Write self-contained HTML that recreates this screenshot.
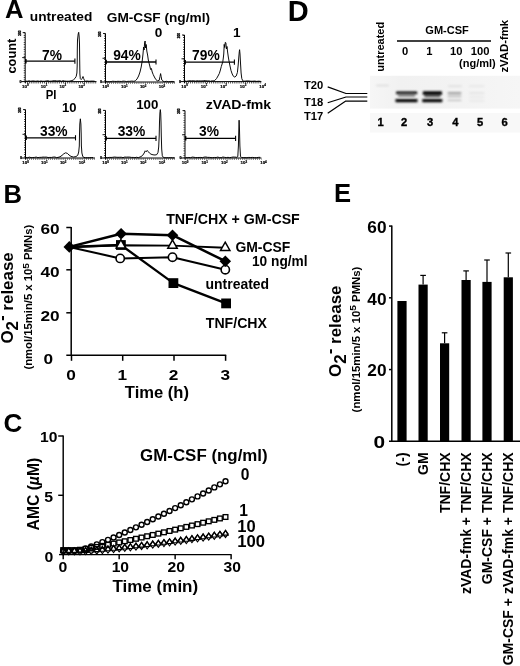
<!DOCTYPE html>
<html lang="en"><head><meta charset="utf-8"><title>Figure</title>
<style>
html,body{margin:0;padding:0;background:#fff;}
body{width:520px;height:666px;overflow:hidden;}
svg{display:block;filter:blur(0.3px);font-family:'Liberation Sans', Arial, Helvetica, sans-serif;fill:#000;}
</style></head><body>
<svg width="520" height="666" viewBox="0 0 520 666">
<rect width="520" height="666" fill="#fff"/>
<g id="panelA">
<text x="5.00" y="18.10" font-size="25.6" text-anchor="start" font-weight="bold">A</text>
<text x="29.80" y="21.20" font-size="13.6" text-anchor="start" font-weight="bold" textLength="62.50" lengthAdjust="spacingAndGlyphs">untreated</text>
<text x="106.80" y="22.00" font-size="13.6" text-anchor="start" font-weight="bold" textLength="103.20" lengthAdjust="spacingAndGlyphs">GM-CSF (ng/ml)</text>
<text x="15.60" y="73.60" font-size="13" text-anchor="start" font-weight="bold" transform="rotate(-90 15.60 73.60)" textLength="35.00" lengthAdjust="spacingAndGlyphs">count</text>
<text x="45.80" y="98.80" font-size="12.5" text-anchor="start" font-weight="bold" textLength="10.70" lengthAdjust="spacingAndGlyphs">PI</text>
<text x="158.50" y="37.00" font-size="13.6" text-anchor="middle" font-weight="bold">0</text>
<text x="236.80" y="36.60" font-size="13.6" text-anchor="middle" font-weight="bold">1</text>
<text x="62.00" y="111.80" font-size="13.6" text-anchor="start" font-weight="bold" textLength="14.50" lengthAdjust="spacingAndGlyphs">10</text>
<text x="136.20" y="109.40" font-size="13.6" text-anchor="start" font-weight="bold" textLength="22.20" lengthAdjust="spacingAndGlyphs">100</text>
<text x="205.80" y="109.00" font-size="13.6" text-anchor="start" font-weight="bold" textLength="65.40" lengthAdjust="spacingAndGlyphs">zVAD-fmk</text>
<line x1="25.20" y1="32.60" x2="25.20" y2="83.10" stroke="#000" stroke-width="1.0"/>
<line x1="21.20" y1="81.60" x2="96.50" y2="81.60" stroke="#000" stroke-width="1.0"/>
<line x1="24.30" y1="32.60" x2="24.30" y2="81.60" stroke="#000" stroke-width="1.1" stroke-dasharray="0.7 1.65"/>
<line x1="22.70" y1="32.60" x2="25.20" y2="32.60" stroke="#000" stroke-width="0.9"/>
<line x1="22.20" y1="57.60" x2="25.20" y2="57.60" stroke="#000" stroke-width="0.9"/>
<line x1="25.20" y1="82.70" x2="96.50" y2="82.70" stroke="#000" stroke-width="1.4" stroke-dasharray="0.6 1.3"/>
<line x1="25.20" y1="61.20" x2="74.90" y2="61.20" stroke="#000" stroke-width="1.3"/>
<line x1="74.90" y1="58.60" x2="74.90" y2="63.80" stroke="#000" stroke-width="1.1"/>
<line x1="25.80" y1="59.00" x2="25.80" y2="63.40" stroke="#000" stroke-width="1.6"/>
<path d="M25.70 81.07 L27.40 81.19 L29.10 80.84 L30.80 81.25 L32.50 80.92 L34.20 81.04 L35.90 81.26 L37.60 80.94 L39.30 81.27 L41.00 81.00 L42.70 81.25 L44.40 81.24 L46.10 81.00 L47.80 80.72 L49.50 81.21 L51.20 81.14 L52.90 80.86 L54.60 80.64 L56.30 80.90 L58.00 81.02 L59.70 80.62 L61.40 81.27 L63.10 80.70 L64.80 81.10 L66.50 81.20 L68.20 81.22 L69.90 81.08 L70.00 81.00 L72.00 80.60 L73.50 79.80 L75.00 78.40 L76.20 76.40 L76.90 73.00 L77.20 66.00 L77.30 50.00 L77.50 40.00 L78.20 34.00 L78.70 32.30 L79.10 36.00 L79.50 44.00 L79.70 60.00 L79.90 74.00 L80.30 78.60 L81.20 79.60 L82.20 78.40 L83.00 76.50 L83.70 78.60 L84.60 80.60 L85.60 81.20 L87.10 80.99 L89.00 81.31 L90.90 81.11 L92.80 81.08 L94.70 81.21" fill="none" stroke="#000" stroke-width="0.95" stroke-linejoin="round"/>
<text x="52.00" y="60.00" font-size="13.8" text-anchor="middle" font-weight="bold">7%</text>
<text x="25.30" y="87.80" font-size="4.4" text-anchor="middle" font-weight="bold" stroke="#000" stroke-width="0.2">10<tspan dy="-1.5" font-size="3.0">0</tspan></text>
<text x="44.10" y="87.80" font-size="4.4" text-anchor="middle" font-weight="bold" stroke="#000" stroke-width="0.2">10<tspan dy="-1.5" font-size="3.0">1</tspan></text>
<text x="62.90" y="87.80" font-size="4.4" text-anchor="middle" font-weight="bold" stroke="#000" stroke-width="0.2">10<tspan dy="-1.5" font-size="3.0">2</tspan></text>
<text x="81.70" y="87.80" font-size="4.4" text-anchor="middle" font-weight="bold" stroke="#000" stroke-width="0.2">10<tspan dy="-1.5" font-size="3.0">3</tspan></text>
<text x="20.60" y="35.80" font-size="3.1" text-anchor="start" font-weight="bold" transform="rotate(-90 20.60 35.80)" stroke="#000" stroke-width="0.3">200</text>
<text x="20.60" y="82.80" font-size="3.6" text-anchor="middle" font-weight="bold" stroke="#000" stroke-width="0.25">0</text>
<line x1="105.50" y1="33.50" x2="105.50" y2="83.50" stroke="#000" stroke-width="1.0"/>
<line x1="101.50" y1="82.00" x2="175.00" y2="82.00" stroke="#000" stroke-width="1.0"/>
<line x1="104.60" y1="33.50" x2="104.60" y2="82.00" stroke="#000" stroke-width="1.1" stroke-dasharray="0.7 1.65"/>
<line x1="103.00" y1="33.50" x2="105.50" y2="33.50" stroke="#000" stroke-width="0.9"/>
<line x1="102.50" y1="58.25" x2="105.50" y2="58.25" stroke="#000" stroke-width="0.9"/>
<line x1="105.50" y1="83.10" x2="175.00" y2="83.10" stroke="#000" stroke-width="1.4" stroke-dasharray="0.6 1.3"/>
<line x1="105.50" y1="62.00" x2="156.00" y2="62.00" stroke="#000" stroke-width="1.3"/>
<line x1="156.00" y1="59.40" x2="156.00" y2="64.60" stroke="#000" stroke-width="1.1"/>
<line x1="106.10" y1="59.80" x2="106.10" y2="64.20" stroke="#000" stroke-width="1.6"/>
<path d="M106.00 81.32 L107.70 81.66 L109.40 81.66 L111.10 81.56 L112.80 81.22 L114.50 81.40 L116.20 81.48 L117.90 81.29 L119.60 81.38 L121.30 81.49 L123.00 81.14 L124.70 81.21 L126.40 81.53 L128.10 81.30 L129.80 81.33 L131.50 81.09 L133.20 81.19 L134.00 81.40 L135.50 80.60 L137.00 79.00 L138.60 76.00 L140.00 72.00 L141.20 67.00 L142.20 61.00 L143.00 54.00 L143.60 47.00 L144.10 50.00 L144.60 43.00 L145.10 41.00 L145.60 48.00 L146.20 44.50 L146.80 51.00 L147.60 55.00 L148.30 60.00 L149.00 63.00 L149.80 66.00 L150.60 69.50 L151.40 68.50 L152.20 72.00 L153.20 74.50 L154.40 77.00 L155.80 79.50 L157.40 80.80 L159.20 80.40 L160.00 76.50 L160.60 73.60 L161.20 76.80 L161.80 80.00 L163.00 81.20 L164.50 81.66 L166.40 81.31 L168.30 81.74 L170.20 81.59 L172.10 81.42 L174.00 81.72" fill="none" stroke="#000" stroke-width="0.95" stroke-linejoin="round"/>
<text x="127.00" y="60.00" font-size="13.8" text-anchor="middle" font-weight="bold">94%</text>
<text x="105.60" y="88.20" font-size="4.4" text-anchor="middle" font-weight="bold" stroke="#000" stroke-width="0.2">10<tspan dy="-1.5" font-size="3.0">0</tspan></text>
<text x="124.40" y="88.20" font-size="4.4" text-anchor="middle" font-weight="bold" stroke="#000" stroke-width="0.2">10<tspan dy="-1.5" font-size="3.0">1</tspan></text>
<text x="143.20" y="88.20" font-size="4.4" text-anchor="middle" font-weight="bold" stroke="#000" stroke-width="0.2">10<tspan dy="-1.5" font-size="3.0">2</tspan></text>
<text x="162.00" y="88.20" font-size="4.4" text-anchor="middle" font-weight="bold" stroke="#000" stroke-width="0.2">10<tspan dy="-1.5" font-size="3.0">3</tspan></text>
<text x="100.90" y="36.70" font-size="3.1" text-anchor="start" font-weight="bold" transform="rotate(-90 100.90 36.70)" stroke="#000" stroke-width="0.3">200</text>
<text x="100.90" y="83.20" font-size="3.6" text-anchor="middle" font-weight="bold" stroke="#000" stroke-width="0.25">0</text>
<line x1="184.50" y1="35.00" x2="184.50" y2="83.10" stroke="#000" stroke-width="1.0"/>
<line x1="180.50" y1="81.60" x2="261.40" y2="81.60" stroke="#000" stroke-width="1.0"/>
<line x1="183.60" y1="35.00" x2="183.60" y2="81.60" stroke="#000" stroke-width="1.1" stroke-dasharray="0.7 1.65"/>
<line x1="182.00" y1="35.00" x2="184.50" y2="35.00" stroke="#000" stroke-width="0.9"/>
<line x1="181.50" y1="58.80" x2="184.50" y2="58.80" stroke="#000" stroke-width="0.9"/>
<line x1="184.50" y1="82.70" x2="261.40" y2="82.70" stroke="#000" stroke-width="1.4" stroke-dasharray="0.6 1.3"/>
<line x1="184.50" y1="62.20" x2="234.40" y2="62.20" stroke="#000" stroke-width="1.3"/>
<line x1="234.40" y1="59.60" x2="234.40" y2="64.80" stroke="#000" stroke-width="1.1"/>
<line x1="185.10" y1="60.00" x2="185.10" y2="64.40" stroke="#000" stroke-width="1.6"/>
<path d="M185.00 80.96 L186.70 81.27 L188.40 80.83 L190.10 80.76 L191.80 80.90 L193.50 80.69 L195.20 81.08 L196.90 80.81 L198.60 80.88 L200.30 80.89 L202.00 80.98 L203.70 80.71 L205.40 80.64 L207.10 80.97 L208.80 80.84 L210.50 81.26 L212.20 80.81 L213.00 81.00 L214.60 80.60 L216.50 78.60 L218.00 76.00 L219.40 73.30 L220.40 70.00 L221.30 66.50 L222.10 64.00 L222.80 61.70 L223.30 58.00 L223.75 54.00 L224.00 49.00 L224.20 44.40 L224.70 47.50 L225.30 42.30 L225.90 42.80 L226.40 49.00 L227.00 46.50 L227.60 52.00 L228.30 57.00 L229.20 62.00 L230.00 66.00 L231.00 70.50 L232.20 74.00 L233.50 76.40 L234.80 77.10 L236.20 76.00 L237.40 72.50 L238.20 65.00 L238.80 57.00 L239.30 51.50 L239.60 49.70 L240.00 54.00 L240.50 63.00 L241.10 73.00 L241.80 78.60 L242.80 80.80 L243.80 81.20 L245.30 81.08 L247.20 80.90 L249.10 80.99 L251.00 81.26 L252.90 81.21 L254.80 81.07 L256.70 81.39 L258.60 81.17 L260.50 81.32" fill="none" stroke="#000" stroke-width="0.95" stroke-linejoin="round"/>
<text x="205.90" y="59.80" font-size="13.8" text-anchor="middle" font-weight="bold">79%</text>
<text x="184.60" y="87.80" font-size="4.4" text-anchor="middle" font-weight="bold" stroke="#000" stroke-width="0.2">10<tspan dy="-1.5" font-size="3.0">0</tspan></text>
<text x="204.10" y="87.80" font-size="4.4" text-anchor="middle" font-weight="bold" stroke="#000" stroke-width="0.2">10<tspan dy="-1.5" font-size="3.0">1</tspan></text>
<text x="223.60" y="87.80" font-size="4.4" text-anchor="middle" font-weight="bold" stroke="#000" stroke-width="0.2">10<tspan dy="-1.5" font-size="3.0">2</tspan></text>
<text x="243.10" y="87.80" font-size="4.4" text-anchor="middle" font-weight="bold" stroke="#000" stroke-width="0.2">10<tspan dy="-1.5" font-size="3.0">3</tspan></text>
<text x="262.60" y="87.80" font-size="4.4" text-anchor="middle" font-weight="bold" stroke="#000" stroke-width="0.2">10<tspan dy="-1.5" font-size="3.0">4</tspan></text>
<text x="179.90" y="38.20" font-size="3.1" text-anchor="start" font-weight="bold" transform="rotate(-90 179.90 38.20)" stroke="#000" stroke-width="0.3">200</text>
<text x="179.90" y="82.80" font-size="3.6" text-anchor="middle" font-weight="bold" stroke="#000" stroke-width="0.25">0</text>
<line x1="25.50" y1="109.60" x2="25.50" y2="159.50" stroke="#000" stroke-width="1.0"/>
<line x1="21.50" y1="158.00" x2="95.00" y2="158.00" stroke="#000" stroke-width="1.0"/>
<line x1="24.60" y1="109.60" x2="24.60" y2="158.00" stroke="#000" stroke-width="1.1" stroke-dasharray="0.7 1.65"/>
<line x1="23.00" y1="109.60" x2="25.50" y2="109.60" stroke="#000" stroke-width="0.9"/>
<line x1="22.50" y1="134.30" x2="25.50" y2="134.30" stroke="#000" stroke-width="0.9"/>
<line x1="25.50" y1="159.10" x2="95.00" y2="159.10" stroke="#000" stroke-width="1.4" stroke-dasharray="0.6 1.3"/>
<line x1="25.50" y1="137.80" x2="75.50" y2="137.80" stroke="#000" stroke-width="1.3"/>
<line x1="75.50" y1="135.20" x2="75.50" y2="140.40" stroke="#000" stroke-width="1.1"/>
<line x1="26.10" y1="135.60" x2="26.10" y2="140.00" stroke="#000" stroke-width="1.6"/>
<path d="M26.00 157.62 L27.70 157.66 L29.40 157.16 L31.10 157.61 L32.80 157.53 L34.50 157.43 L36.20 157.09 L37.90 157.64 L39.60 157.39 L41.30 157.32 L43.00 157.08 L44.70 157.13 L46.40 157.10 L48.10 157.51 L49.80 157.41 L51.50 157.45 L53.20 157.08 L54.90 157.03 L56.60 157.59 L58.00 157.40 L60.00 156.80 L62.00 155.40 L63.80 153.80 L65.60 152.80 L67.40 153.40 L69.00 155.00 L71.00 156.40 L73.50 157.00 L76.00 156.60 L77.80 155.20 L78.70 152.00 L79.30 146.00 L79.50 134.00 L79.80 124.00 L80.35 118.80 L80.90 124.00 L81.20 134.00 L81.40 146.00 L81.90 153.00 L82.80 156.60 L84.00 157.40 L85.50 157.71 L87.40 157.68 L89.30 157.68 L91.20 157.56 L93.10 157.51" fill="none" stroke="#000" stroke-width="0.95" stroke-linejoin="round"/>
<text x="53.80" y="135.60" font-size="13.8" text-anchor="middle" font-weight="bold">33%</text>
<text x="25.60" y="164.20" font-size="4.4" text-anchor="middle" font-weight="bold" stroke="#000" stroke-width="0.2">10<tspan dy="-1.5" font-size="3.0">0</tspan></text>
<text x="44.40" y="164.20" font-size="4.4" text-anchor="middle" font-weight="bold" stroke="#000" stroke-width="0.2">10<tspan dy="-1.5" font-size="3.0">1</tspan></text>
<text x="63.20" y="164.20" font-size="4.4" text-anchor="middle" font-weight="bold" stroke="#000" stroke-width="0.2">10<tspan dy="-1.5" font-size="3.0">2</tspan></text>
<text x="82.00" y="164.20" font-size="4.4" text-anchor="middle" font-weight="bold" stroke="#000" stroke-width="0.2">10<tspan dy="-1.5" font-size="3.0">3</tspan></text>
<text x="20.90" y="112.80" font-size="3.1" text-anchor="start" font-weight="bold" transform="rotate(-90 20.90 112.80)" stroke="#000" stroke-width="0.3">200</text>
<text x="20.90" y="159.20" font-size="3.6" text-anchor="middle" font-weight="bold" stroke="#000" stroke-width="0.25">0</text>
<line x1="105.50" y1="110.40" x2="105.50" y2="159.50" stroke="#000" stroke-width="1.0"/>
<line x1="101.50" y1="158.00" x2="175.00" y2="158.00" stroke="#000" stroke-width="1.0"/>
<line x1="104.60" y1="110.40" x2="104.60" y2="158.00" stroke="#000" stroke-width="1.1" stroke-dasharray="0.7 1.65"/>
<line x1="103.00" y1="110.40" x2="105.50" y2="110.40" stroke="#000" stroke-width="0.9"/>
<line x1="102.50" y1="134.70" x2="105.50" y2="134.70" stroke="#000" stroke-width="0.9"/>
<line x1="105.50" y1="159.10" x2="175.00" y2="159.10" stroke="#000" stroke-width="1.4" stroke-dasharray="0.6 1.3"/>
<line x1="105.50" y1="138.40" x2="156.00" y2="138.40" stroke="#000" stroke-width="1.3"/>
<line x1="156.00" y1="135.80" x2="156.00" y2="141.00" stroke="#000" stroke-width="1.1"/>
<line x1="106.10" y1="136.20" x2="106.10" y2="140.60" stroke="#000" stroke-width="1.6"/>
<path d="M106.00 157.52 L107.70 157.70 L109.40 157.41 L111.10 157.44 L112.80 157.30 L114.50 157.03 L116.20 157.22 L117.90 157.34 L119.60 157.27 L121.30 157.23 L123.00 157.66 L124.70 157.07 L126.40 157.15 L128.10 157.09 L129.80 157.14 L131.50 157.43 L133.20 157.42 L134.90 157.63 L136.60 157.26 L138.30 157.66 L139.00 157.40 L141.00 156.60 L142.80 155.20 L144.20 153.00 L145.20 150.80 L146.20 151.80 L147.20 150.40 L148.20 151.60 L149.40 153.00 L151.00 154.20 L153.00 154.80 L155.00 155.00 L156.80 154.60 L158.00 152.40 L158.70 147.00 L159.20 136.00 L159.50 122.00 L159.90 113.00 L160.30 109.60 L160.70 113.00 L161.00 122.00 L161.30 136.00 L161.70 149.00 L162.30 155.80 L163.40 157.40 L164.90 157.77 L166.80 157.70 L168.70 157.72 L170.60 157.63 L172.50 157.77 L174.40 157.80" fill="none" stroke="#000" stroke-width="0.95" stroke-linejoin="round"/>
<text x="131.50" y="135.60" font-size="13.8" text-anchor="middle" font-weight="bold">33%</text>
<text x="105.60" y="164.20" font-size="4.4" text-anchor="middle" font-weight="bold" stroke="#000" stroke-width="0.2">10<tspan dy="-1.5" font-size="3.0">0</tspan></text>
<text x="124.40" y="164.20" font-size="4.4" text-anchor="middle" font-weight="bold" stroke="#000" stroke-width="0.2">10<tspan dy="-1.5" font-size="3.0">1</tspan></text>
<text x="143.20" y="164.20" font-size="4.4" text-anchor="middle" font-weight="bold" stroke="#000" stroke-width="0.2">10<tspan dy="-1.5" font-size="3.0">2</tspan></text>
<text x="162.00" y="164.20" font-size="4.4" text-anchor="middle" font-weight="bold" stroke="#000" stroke-width="0.2">10<tspan dy="-1.5" font-size="3.0">3</tspan></text>
<text x="100.90" y="113.60" font-size="3.1" text-anchor="start" font-weight="bold" transform="rotate(-90 100.90 113.60)" stroke="#000" stroke-width="0.3">200</text>
<text x="100.90" y="159.20" font-size="3.6" text-anchor="middle" font-weight="bold" stroke="#000" stroke-width="0.25">0</text>
<line x1="185.00" y1="110.60" x2="185.00" y2="159.50" stroke="#000" stroke-width="1.0"/>
<line x1="181.00" y1="158.00" x2="261.40" y2="158.00" stroke="#000" stroke-width="1.0"/>
<line x1="184.10" y1="110.60" x2="184.10" y2="158.00" stroke="#000" stroke-width="1.1" stroke-dasharray="0.7 1.65"/>
<line x1="182.50" y1="110.60" x2="185.00" y2="110.60" stroke="#000" stroke-width="0.9"/>
<line x1="182.00" y1="134.80" x2="185.00" y2="134.80" stroke="#000" stroke-width="0.9"/>
<line x1="185.00" y1="159.10" x2="261.40" y2="159.10" stroke="#000" stroke-width="1.4" stroke-dasharray="0.6 1.3"/>
<line x1="185.00" y1="138.30" x2="235.60" y2="138.30" stroke="#000" stroke-width="1.3"/>
<line x1="235.60" y1="135.70" x2="235.60" y2="140.90" stroke="#000" stroke-width="1.1"/>
<line x1="185.60" y1="136.10" x2="185.60" y2="140.50" stroke="#000" stroke-width="1.6"/>
<path d="M185.50 157.59 L187.20 157.63 L188.90 157.45 L190.60 157.68 L192.30 157.09 L194.00 157.27 L195.70 157.60 L197.40 157.52 L199.10 157.46 L200.80 157.45 L202.50 157.61 L204.20 157.11 L205.90 157.00 L207.60 157.37 L209.30 157.36 L211.00 157.64 L212.70 157.63 L214.40 157.46 L216.10 157.51 L217.80 157.12 L219.50 157.59 L221.20 157.68 L222.90 157.03 L224.60 157.33 L226.30 157.60 L228.00 157.32 L229.70 157.68 L231.40 157.33 L233.10 157.02 L234.80 157.10 L236.50 157.21 L236.50 157.40 L237.80 156.60 L238.40 146.00 L238.80 130.00 L239.10 120.20 L239.50 130.00 L239.90 146.00 L240.50 156.60 L241.60 157.40 L243.10 157.67 L245.00 157.62 L246.90 157.72 L248.80 157.41 L250.70 157.53 L252.60 157.41 L254.50 157.64 L256.40 157.69 L258.30 157.39 L260.20 157.31" fill="none" stroke="#000" stroke-width="0.95" stroke-linejoin="round"/>
<text x="209.00" y="135.60" font-size="13.8" text-anchor="middle" font-weight="bold">3%</text>
<text x="185.10" y="164.20" font-size="4.4" text-anchor="middle" font-weight="bold" stroke="#000" stroke-width="0.2">10<tspan dy="-1.5" font-size="3.0">0</tspan></text>
<text x="204.70" y="164.20" font-size="4.4" text-anchor="middle" font-weight="bold" stroke="#000" stroke-width="0.2">10<tspan dy="-1.5" font-size="3.0">1</tspan></text>
<text x="224.30" y="164.20" font-size="4.4" text-anchor="middle" font-weight="bold" stroke="#000" stroke-width="0.2">10<tspan dy="-1.5" font-size="3.0">2</tspan></text>
<text x="243.90" y="164.20" font-size="4.4" text-anchor="middle" font-weight="bold" stroke="#000" stroke-width="0.2">10<tspan dy="-1.5" font-size="3.0">3</tspan></text>
<text x="263.50" y="164.20" font-size="4.4" text-anchor="middle" font-weight="bold" stroke="#000" stroke-width="0.2">10<tspan dy="-1.5" font-size="3.0">4</tspan></text>
<text x="180.40" y="113.80" font-size="3.1" text-anchor="start" font-weight="bold" transform="rotate(-90 180.40 113.80)" stroke="#000" stroke-width="0.3">200</text>
<text x="180.40" y="159.20" font-size="3.6" text-anchor="middle" font-weight="bold" stroke="#000" stroke-width="0.25">0</text>
</g>
<g id="panelD">
<text x="287.70" y="20.80" font-size="29" text-anchor="start" font-weight="bold">D</text>
<defs><filter id="bl" filterUnits="userSpaceOnUse" x="360" y="70" width="160" height="45"><feGaussianBlur stdDeviation="0.85"/></filter><filter id="bl2" filterUnits="userSpaceOnUse" x="360" y="70" width="160" height="45"><feGaussianBlur stdDeviation="1.3"/></filter><linearGradient id="gg" x1="0" x2="1" y1="0" y2="0"><stop offset="0" stop-color="#f6f6f6"/><stop offset="0.2" stop-color="#f1f1f1"/><stop offset="0.6" stop-color="#f3f3f3"/><stop offset="1" stop-color="#f6f6f6"/></linearGradient></defs>
<rect x="370" y="75.8" width="150" height="32.8" fill="url(#gg)"/>
<rect x="370" y="113" width="150" height="19.5" fill="#f8f8f8"/>
<text x="383.70" y="71.80" font-size="11.2" text-anchor="start" font-weight="bold" transform="rotate(-90 383.70 71.80)" textLength="50.00" lengthAdjust="spacingAndGlyphs">untreated</text>
<text x="508.50" y="72.60" font-size="11.2" text-anchor="start" font-weight="bold" transform="rotate(-90 508.50 72.60)" textLength="52.80" lengthAdjust="spacingAndGlyphs">zVAD-fmk</text>
<text x="425.30" y="33.90" font-size="11.2" text-anchor="start" font-weight="bold" textLength="43.50" lengthAdjust="spacingAndGlyphs">GM-CSF</text>
<line x1="397.00" y1="40.90" x2="491.00" y2="40.90" stroke="#000" stroke-width="1.5"/>
<text x="405.00" y="54.70" font-size="11.2" text-anchor="middle" font-weight="bold">0</text>
<text x="429.40" y="54.70" font-size="11.2" text-anchor="middle" font-weight="bold">1</text>
<text x="456.20" y="54.70" font-size="11.2" text-anchor="middle" font-weight="bold">10</text>
<text x="480.20" y="54.70" font-size="11.2" text-anchor="middle" font-weight="bold">100</text>
<text x="459.00" y="67.00" font-size="11.2" text-anchor="start" font-weight="bold" textLength="36.80" lengthAdjust="spacingAndGlyphs">(ng/ml)</text>
<text x="304.00" y="89.20" font-size="11.2" text-anchor="start" font-weight="bold" textLength="19.30" lengthAdjust="spacingAndGlyphs">T20</text>
<text x="304.00" y="105.90" font-size="11.2" text-anchor="start" font-weight="bold" textLength="19.30" lengthAdjust="spacingAndGlyphs">T18</text>
<text x="304.00" y="120.40" font-size="11.2" text-anchor="start" font-weight="bold" textLength="19.30" lengthAdjust="spacingAndGlyphs">T17</text>
<path d="M327.70 86.90 L346.00 93.50 L367.30 93.50" fill="none" stroke="#000" stroke-width="1.2" stroke-linejoin="round"/>
<path d="M327.70 102.70 L346.00 97.00 L367.30 97.00" fill="none" stroke="#000" stroke-width="1.2" stroke-linejoin="round"/>
<path d="M327.70 113.30 L345.40 101.20 L367.30 101.20" fill="none" stroke="#000" stroke-width="1.2" stroke-linejoin="round"/>
<g filter="url(#bl)">
<rect x="396.0" y="91.4" width="21.20" height="2.90" rx="0.8" fill="#000"/>
<rect x="398.0" y="94.6" width="17.20" height="2.20" rx="0.8" fill="#7c7c7c"/>
<rect x="395.4" y="98.9" width="22.20" height="3.30" rx="0.8" fill="#000"/>
<rect x="422.8" y="91.2" width="19.20" height="3.80" rx="0.8" fill="#000"/>
<rect x="424.3" y="95.0" width="16.20" height="2.20" rx="0.8" fill="#5a5a5a"/>
<rect x="422.2" y="98.9" width="20.20" height="3.30" rx="0.8" fill="#000"/>
<rect x="447.5" y="92.3" width="14.00" height="1.60" rx="0.8" fill="#8e8e8e"/>
<rect x="447.5" y="95.5" width="14.00" height="1.40" rx="0.8" fill="#b0b0b0"/>
<rect x="447.5" y="99.7" width="14.00" height="1.40" rx="0.8" fill="#b8b8b8"/>
</g>
<g filter="url(#bl2)">
<rect x="448" y="85.4" width="14.00" height="1.40" rx="0.8" fill="#d8d8d8"/>
<rect x="469" y="85.6" width="15.60" height="1.20" rx="0.8" fill="#e2e2e2"/>
<rect x="469" y="92.4" width="15.60" height="1.40" rx="0.8" fill="#dcdcdc"/>
<rect x="469" y="96.4" width="15.60" height="1.20" rx="0.8" fill="#e2e2e2"/>
<rect x="469" y="100.2" width="15.60" height="1.20" rx="0.8" fill="#e4e4e4"/>
<rect x="376" y="84.8" width="13.00" height="1.40" rx="0.8" fill="#dadada"/>
</g>
<text x="380.60" y="125.80" font-size="11.2" text-anchor="middle" font-weight="bold" stroke="#000" stroke-width="0.35">1</text>
<text x="404.20" y="125.80" font-size="11.2" text-anchor="middle" font-weight="bold" stroke="#000" stroke-width="0.35">2</text>
<text x="430.00" y="125.80" font-size="11.2" text-anchor="middle" font-weight="bold" stroke="#000" stroke-width="0.35">3</text>
<text x="455.40" y="125.80" font-size="11.2" text-anchor="middle" font-weight="bold" stroke="#000" stroke-width="0.35">4</text>
<text x="480.00" y="125.80" font-size="11.2" text-anchor="middle" font-weight="bold" stroke="#000" stroke-width="0.35">5</text>
<text x="504.60" y="125.80" font-size="11.2" text-anchor="middle" font-weight="bold" stroke="#000" stroke-width="0.35">6</text>
</g>
<g id="panelB">
<text x="3.50" y="202.70" font-size="25.6" text-anchor="start" font-weight="bold">B</text>
<line x1="71.20" y1="226.90" x2="71.20" y2="355.80" stroke="#000" stroke-width="1.5"/>
<line x1="66.30" y1="355.20" x2="226.20" y2="355.20" stroke="#000" stroke-width="1.5"/>
<line x1="66.30" y1="312.80" x2="71.20" y2="312.80" stroke="#000" stroke-width="1.5"/>
<line x1="66.30" y1="269.80" x2="71.20" y2="269.80" stroke="#000" stroke-width="1.5"/>
<line x1="66.30" y1="227.50" x2="71.20" y2="227.50" stroke="#000" stroke-width="1.5"/>
<line x1="71.50" y1="355.20" x2="71.50" y2="360.80" stroke="#000" stroke-width="1.5"/>
<line x1="122.70" y1="355.20" x2="122.70" y2="360.80" stroke="#000" stroke-width="1.5"/>
<line x1="174.00" y1="355.20" x2="174.00" y2="360.80" stroke="#000" stroke-width="1.5"/>
<line x1="225.60" y1="355.20" x2="225.60" y2="360.80" stroke="#000" stroke-width="1.5"/>
<text x="40.40" y="234.30" font-size="15.4" text-anchor="start" font-weight="bold" textLength="19.20" lengthAdjust="spacingAndGlyphs">60</text>
<text x="40.40" y="277.40" font-size="15.4" text-anchor="start" font-weight="bold" textLength="19.20" lengthAdjust="spacingAndGlyphs">40</text>
<text x="40.40" y="320.80" font-size="15.4" text-anchor="start" font-weight="bold" textLength="19.20" lengthAdjust="spacingAndGlyphs">20</text>
<text x="43.60" y="364.10" font-size="15.4" text-anchor="start" font-weight="bold" textLength="9.60" lengthAdjust="spacingAndGlyphs">0</text>
<text x="71.10" y="379.70" font-size="15.4" text-anchor="middle" font-weight="bold" textLength="9.60" lengthAdjust="spacingAndGlyphs">0</text>
<text x="122.30" y="379.70" font-size="15.4" text-anchor="middle" font-weight="bold" textLength="9.60" lengthAdjust="spacingAndGlyphs">1</text>
<text x="173.60" y="379.70" font-size="15.4" text-anchor="middle" font-weight="bold" textLength="9.60" lengthAdjust="spacingAndGlyphs">2</text>
<text x="225.20" y="379.70" font-size="15.4" text-anchor="middle" font-weight="bold" textLength="9.60" lengthAdjust="spacingAndGlyphs">3</text>
<text x="124.80" y="397.50" font-size="17" text-anchor="start" font-weight="bold" textLength="64.20" lengthAdjust="spacingAndGlyphs">Time (h)</text>
<text transform="translate(13.0,343.6) rotate(-90)" font-size="17" font-weight="bold" textLength="91.4" lengthAdjust="spacingAndGlyphs">O<tspan dy="5">2</tspan><tspan dy="-11.3">-</tspan><tspan dy="6.3"> release</tspan></text>
<text transform="translate(32.3,369.6) rotate(-90)" font-size="10.4" font-weight="bold" textLength="144.8" lengthAdjust="spacingAndGlyphs">(nmol/15min/5 x 10<tspan dy="-3.6" font-size="9.4">5</tspan><tspan dy="3.6"> PMNs)</tspan></text>
<path d="M69.30 247.00 L120.90 245.00 L173.40 283.10 L226.10 303.40" fill="none" stroke="#000" stroke-width="2.3" stroke-linejoin="round"/>
<path d="M69.30 247.00 L120.20 258.40 L172.50 257.20 L225.30 269.70" fill="none" stroke="#000" stroke-width="2.0" stroke-linejoin="round"/>
<path d="M69.30 247.00 L120.90 245.20 L172.50 245.60 L225.20 247.80" fill="none" stroke="#000" stroke-width="1.9" stroke-linejoin="round"/>
<path d="M69.30 246.90 L121.10 233.80 L172.50 235.20 L225.30 261.20" fill="none" stroke="#000" stroke-width="2.5" stroke-linejoin="round"/>
<rect x="116.00" y="240.10" width="9.8" height="9.8" fill="#000"/>
<rect x="168.50" y="278.20" width="9.8" height="9.8" fill="#000"/>
<rect x="221.20" y="298.50" width="9.8" height="9.8" fill="#000"/>
<circle cx="120.20" cy="258.40" r="4.15" fill="#fff" stroke="#000" stroke-width="1.6"/>
<circle cx="172.50" cy="257.20" r="4.15" fill="#fff" stroke="#000" stroke-width="1.6"/>
<circle cx="225.30" cy="269.70" r="4.15" fill="#fff" stroke="#000" stroke-width="1.6"/>
<path d="M120.90 239.60 L125.60 247.90 L116.20 247.90 Z" fill="#fff" stroke="#000" stroke-width="1.5"/>
<path d="M172.50 240.00 L177.20 248.30 L167.80 248.30 Z" fill="#fff" stroke="#000" stroke-width="1.5"/>
<path d="M225.20 242.20 L229.90 250.50 L220.50 250.50 Z" fill="#fff" stroke="#000" stroke-width="1.5"/>
<path d="M69.30 241.10 L75.10 246.90 L69.30 252.70 L63.50 246.90 Z" fill="#000"/>
<path d="M121.10 228.00 L126.90 233.80 L121.10 239.60 L115.30 233.80 Z" fill="#000"/>
<path d="M172.50 229.40 L178.30 235.20 L172.50 241.00 L166.70 235.20 Z" fill="#000"/>
<path d="M225.30 255.40 L231.10 261.20 L225.30 267.00 L219.50 261.20 Z" fill="#000"/>
<text x="166.20" y="224.20" font-size="14" text-anchor="start" font-weight="bold" textLength="133.60" lengthAdjust="spacingAndGlyphs">TNF/CHX + GM-CSF</text>
<text x="235.40" y="252.40" font-size="14" text-anchor="start" font-weight="bold" textLength="55.00" lengthAdjust="spacingAndGlyphs">GM-CSF</text>
<text x="252.00" y="266.20" font-size="14" text-anchor="start" font-weight="bold" textLength="55.60" lengthAdjust="spacingAndGlyphs">10 ng/ml</text>
<text x="205.50" y="288.70" font-size="14" text-anchor="start" font-weight="bold" textLength="63.60" lengthAdjust="spacingAndGlyphs">untreated</text>
<text x="205.80" y="328.20" font-size="14" text-anchor="start" font-weight="bold" textLength="61.20" lengthAdjust="spacingAndGlyphs">TNF/CHX</text>
</g>
<g id="panelC">
<text x="3.60" y="432.00" font-size="26" text-anchor="start" font-weight="bold">C</text>
<line x1="63.20" y1="435.40" x2="63.20" y2="555.20" stroke="#000" stroke-width="1.45"/>
<line x1="59.00" y1="554.60" x2="231.60" y2="554.60" stroke="#000" stroke-width="1.45"/>
<line x1="58.20" y1="495.30" x2="63.20" y2="495.30" stroke="#000" stroke-width="1.45"/>
<line x1="58.20" y1="436.00" x2="63.20" y2="436.00" stroke="#000" stroke-width="1.45"/>
<line x1="63.20" y1="554.60" x2="63.20" y2="559.20" stroke="#000" stroke-width="1.45"/>
<line x1="119.17" y1="554.60" x2="119.17" y2="559.20" stroke="#000" stroke-width="1.45"/>
<line x1="175.14" y1="554.60" x2="175.14" y2="559.20" stroke="#000" stroke-width="1.45"/>
<line x1="231.11" y1="554.60" x2="231.11" y2="559.20" stroke="#000" stroke-width="1.45"/>
<text x="40.00" y="442.30" font-size="14.1" text-anchor="start" font-weight="bold" textLength="17.40" lengthAdjust="spacingAndGlyphs">10</text>
<text x="44.20" y="502.00" font-size="14.1" text-anchor="start" font-weight="bold" textLength="8.80" lengthAdjust="spacingAndGlyphs">5</text>
<text x="44.50" y="562.00" font-size="14.1" text-anchor="start" font-weight="bold" textLength="8.80" lengthAdjust="spacingAndGlyphs">0</text>
<text x="62.90" y="572.30" font-size="14.1" text-anchor="middle" font-weight="bold" textLength="8.80" lengthAdjust="spacingAndGlyphs">0</text>
<text x="120.37" y="572.30" font-size="14.1" text-anchor="middle" font-weight="bold" textLength="17.40" lengthAdjust="spacingAndGlyphs">10</text>
<text x="176.34" y="572.30" font-size="14.1" text-anchor="middle" font-weight="bold" textLength="17.40" lengthAdjust="spacingAndGlyphs">20</text>
<text x="232.31" y="572.30" font-size="14.1" text-anchor="middle" font-weight="bold" textLength="17.40" lengthAdjust="spacingAndGlyphs">30</text>
<text x="112.40" y="592.30" font-size="16.9" text-anchor="start" font-weight="bold" textLength="85.80" lengthAdjust="spacingAndGlyphs">Time (min)</text>
<text transform="translate(38.8,530.4) rotate(-90)" font-size="15.6" font-weight="bold" textLength="72.6" lengthAdjust="spacingAndGlyphs">AMC (<tspan font-style="italic">µ</tspan>M)</text>
<text x="140.10" y="461.00" font-size="16.9" text-anchor="start" font-weight="bold" textLength="127.60" lengthAdjust="spacingAndGlyphs">GM-CSF (ng/ml)</text>
<text x="240.80" y="479.70" font-size="15.6" text-anchor="start" font-weight="bold">0</text>
<text x="239.20" y="516.10" font-size="15.6" text-anchor="start" font-weight="bold">1</text>
<text x="237.20" y="531.80" font-size="15.6" text-anchor="start" font-weight="bold" textLength="18.40" lengthAdjust="spacingAndGlyphs">10</text>
<text x="237.20" y="546.80" font-size="15.6" text-anchor="start" font-weight="bold" textLength="27.80" lengthAdjust="spacingAndGlyphs">100</text>
<path d="M63.20 547.90 L65.90 551.40 L63.20 554.90 L60.50 551.40 Z" fill="none" stroke="#000" stroke-width="1.15"/>
<path d="M63.20 547.80 L65.90 552.60 L60.50 552.60 Z" fill="none" stroke="#000" stroke-width="1.1"/>
<path d="M68.80 547.90 L71.50 551.40 L68.80 554.90 L66.10 551.40 Z" fill="none" stroke="#000" stroke-width="1.15"/>
<path d="M68.80 547.80 L71.50 552.60 L66.10 552.60 Z" fill="none" stroke="#000" stroke-width="1.1"/>
<path d="M74.39 547.90 L77.09 551.40 L74.39 554.90 L71.69 551.40 Z" fill="none" stroke="#000" stroke-width="1.15"/>
<path d="M74.39 547.80 L77.09 552.60 L71.69 552.60 Z" fill="none" stroke="#000" stroke-width="1.1"/>
<path d="M79.99 547.90 L82.69 551.40 L79.99 554.90 L77.29 551.40 Z" fill="none" stroke="#000" stroke-width="1.15"/>
<path d="M79.99 547.80 L82.69 552.60 L77.29 552.60 Z" fill="none" stroke="#000" stroke-width="1.1"/>
<path d="M85.59 547.68 L88.29 551.18 L85.59 554.68 L82.89 551.18 Z" fill="none" stroke="#000" stroke-width="1.15"/>
<path d="M85.59 547.58 L88.29 552.38 L82.89 552.38 Z" fill="none" stroke="#000" stroke-width="1.1"/>
<path d="M91.19 547.35 L93.89 550.85 L91.19 554.35 L88.48 550.85 Z" fill="none" stroke="#000" stroke-width="1.15"/>
<path d="M91.19 547.25 L93.89 552.05 L88.48 552.05 Z" fill="none" stroke="#000" stroke-width="1.1"/>
<path d="M96.78 546.95 L99.48 550.45 L96.78 553.95 L94.08 550.45 Z" fill="none" stroke="#000" stroke-width="1.15"/>
<path d="M96.78 546.85 L99.48 551.65 L94.08 551.65 Z" fill="none" stroke="#000" stroke-width="1.1"/>
<path d="M102.38 546.50 L105.08 550.00 L102.38 553.50 L99.68 550.00 Z" fill="none" stroke="#000" stroke-width="1.15"/>
<path d="M102.38 546.40 L105.08 551.20 L99.68 551.20 Z" fill="none" stroke="#000" stroke-width="1.1"/>
<path d="M107.98 546.02 L110.68 549.52 L107.98 553.02 L105.28 549.52 Z" fill="none" stroke="#000" stroke-width="1.15"/>
<path d="M107.98 545.92 L110.68 550.72 L105.28 550.72 Z" fill="none" stroke="#000" stroke-width="1.1"/>
<path d="M113.57 545.49 L116.27 548.99 L113.57 552.49 L110.87 548.99 Z" fill="none" stroke="#000" stroke-width="1.15"/>
<path d="M113.57 545.39 L116.27 550.19 L110.87 550.19 Z" fill="none" stroke="#000" stroke-width="1.1"/>
<path d="M119.17 544.93 L121.87 548.43 L119.17 551.93 L116.47 548.43 Z" fill="none" stroke="#000" stroke-width="1.15"/>
<path d="M119.17 544.83 L121.87 549.63 L116.47 549.63 Z" fill="none" stroke="#000" stroke-width="1.1"/>
<path d="M124.77 544.35 L127.47 547.85 L124.77 551.35 L122.07 547.85 Z" fill="none" stroke="#000" stroke-width="1.15"/>
<path d="M124.77 544.25 L127.47 549.05 L122.07 549.05 Z" fill="none" stroke="#000" stroke-width="1.1"/>
<path d="M130.36 543.73 L133.06 547.23 L130.36 550.73 L127.66 547.23 Z" fill="none" stroke="#000" stroke-width="1.15"/>
<path d="M130.36 543.63 L133.06 548.43 L127.66 548.43 Z" fill="none" stroke="#000" stroke-width="1.1"/>
<path d="M135.96 543.10 L138.66 546.60 L135.96 550.10 L133.26 546.60 Z" fill="none" stroke="#000" stroke-width="1.15"/>
<path d="M135.96 543.00 L138.66 547.80 L133.26 547.80 Z" fill="none" stroke="#000" stroke-width="1.1"/>
<path d="M141.56 542.44 L144.26 545.94 L141.56 549.44 L138.86 545.94 Z" fill="none" stroke="#000" stroke-width="1.15"/>
<path d="M141.56 542.34 L144.26 547.14 L138.86 547.14 Z" fill="none" stroke="#000" stroke-width="1.1"/>
<path d="M147.16 541.76 L149.86 545.26 L147.16 548.76 L144.46 545.26 Z" fill="none" stroke="#000" stroke-width="1.15"/>
<path d="M147.16 541.66 L149.86 546.46 L144.46 546.46 Z" fill="none" stroke="#000" stroke-width="1.1"/>
<path d="M152.75 541.06 L155.45 544.56 L152.75 548.06 L150.05 544.56 Z" fill="none" stroke="#000" stroke-width="1.15"/>
<path d="M152.75 540.96 L155.45 545.76 L150.05 545.76 Z" fill="none" stroke="#000" stroke-width="1.1"/>
<path d="M158.35 540.34 L161.05 543.84 L158.35 547.34 L155.65 543.84 Z" fill="none" stroke="#000" stroke-width="1.15"/>
<path d="M158.35 540.24 L161.05 545.04 L155.65 545.04 Z" fill="none" stroke="#000" stroke-width="1.1"/>
<path d="M163.95 539.60 L166.65 543.10 L163.95 546.60 L161.25 543.10 Z" fill="none" stroke="#000" stroke-width="1.15"/>
<path d="M163.95 539.50 L166.65 544.30 L161.25 544.30 Z" fill="none" stroke="#000" stroke-width="1.1"/>
<path d="M169.54 538.85 L172.24 542.35 L169.54 545.85 L166.84 542.35 Z" fill="none" stroke="#000" stroke-width="1.15"/>
<path d="M169.54 538.75 L172.24 543.55 L166.84 543.55 Z" fill="none" stroke="#000" stroke-width="1.1"/>
<path d="M175.14 538.07 L177.84 541.57 L175.14 545.07 L172.44 541.57 Z" fill="none" stroke="#000" stroke-width="1.15"/>
<path d="M175.14 537.97 L177.84 542.77 L172.44 542.77 Z" fill="none" stroke="#000" stroke-width="1.1"/>
<path d="M180.74 537.29 L183.44 540.79 L180.74 544.29 L178.04 540.79 Z" fill="none" stroke="#000" stroke-width="1.15"/>
<path d="M180.74 537.19 L183.44 541.99 L178.04 541.99 Z" fill="none" stroke="#000" stroke-width="1.1"/>
<path d="M186.33 536.48 L189.03 539.98 L186.33 543.48 L183.63 539.98 Z" fill="none" stroke="#000" stroke-width="1.15"/>
<path d="M186.33 536.38 L189.03 541.18 L183.63 541.18 Z" fill="none" stroke="#000" stroke-width="1.1"/>
<path d="M191.93 535.66 L194.63 539.16 L191.93 542.66 L189.23 539.16 Z" fill="none" stroke="#000" stroke-width="1.15"/>
<path d="M191.93 535.56 L194.63 540.36 L189.23 540.36 Z" fill="none" stroke="#000" stroke-width="1.1"/>
<path d="M197.53 534.83 L200.23 538.33 L197.53 541.83 L194.83 538.33 Z" fill="none" stroke="#000" stroke-width="1.15"/>
<path d="M197.53 534.73 L200.23 539.53 L194.83 539.53 Z" fill="none" stroke="#000" stroke-width="1.1"/>
<path d="M203.12 533.98 L205.82 537.48 L203.12 540.98 L200.43 537.48 Z" fill="none" stroke="#000" stroke-width="1.15"/>
<path d="M203.12 533.88 L205.82 538.68 L200.43 538.68 Z" fill="none" stroke="#000" stroke-width="1.1"/>
<path d="M208.72 533.12 L211.42 536.62 L208.72 540.12 L206.02 536.62 Z" fill="none" stroke="#000" stroke-width="1.15"/>
<path d="M208.72 533.02 L211.42 537.82 L206.02 537.82 Z" fill="none" stroke="#000" stroke-width="1.1"/>
<path d="M214.32 532.25 L217.02 535.75 L214.32 539.25 L211.62 535.75 Z" fill="none" stroke="#000" stroke-width="1.15"/>
<path d="M214.32 532.15 L217.02 536.95 L211.62 536.95 Z" fill="none" stroke="#000" stroke-width="1.1"/>
<path d="M219.92 531.36 L222.62 534.86 L219.92 538.36 L217.22 534.86 Z" fill="none" stroke="#000" stroke-width="1.15"/>
<path d="M219.92 531.26 L222.62 536.06 L217.22 536.06 Z" fill="none" stroke="#000" stroke-width="1.1"/>
<path d="M225.51 530.46 L228.21 533.96 L225.51 537.46 L222.81 533.96 Z" fill="none" stroke="#000" stroke-width="1.15"/>
<path d="M225.51 530.36 L228.21 535.16 L222.81 535.16 Z" fill="none" stroke="#000" stroke-width="1.1"/>
<rect x="60.85" y="547.74" width="4.7" height="4.7" fill="none" stroke="#000" stroke-width="1.35"/>
<rect x="66.45" y="547.74" width="4.7" height="4.7" fill="none" stroke="#000" stroke-width="1.35"/>
<rect x="72.04" y="547.74" width="4.7" height="4.7" fill="none" stroke="#000" stroke-width="1.35"/>
<rect x="77.64" y="547.41" width="4.7" height="4.7" fill="none" stroke="#000" stroke-width="1.35"/>
<rect x="83.24" y="546.56" width="4.7" height="4.7" fill="none" stroke="#000" stroke-width="1.35"/>
<rect x="88.84" y="545.60" width="4.7" height="4.7" fill="none" stroke="#000" stroke-width="1.35"/>
<rect x="94.43" y="544.58" width="4.7" height="4.7" fill="none" stroke="#000" stroke-width="1.35"/>
<rect x="100.03" y="543.51" width="4.7" height="4.7" fill="none" stroke="#000" stroke-width="1.35"/>
<rect x="105.63" y="542.40" width="4.7" height="4.7" fill="none" stroke="#000" stroke-width="1.35"/>
<rect x="111.22" y="541.26" width="4.7" height="4.7" fill="none" stroke="#000" stroke-width="1.35"/>
<rect x="116.82" y="540.09" width="4.7" height="4.7" fill="none" stroke="#000" stroke-width="1.35"/>
<rect x="122.42" y="538.90" width="4.7" height="4.7" fill="none" stroke="#000" stroke-width="1.35"/>
<rect x="128.01" y="537.68" width="4.7" height="4.7" fill="none" stroke="#000" stroke-width="1.35"/>
<rect x="133.61" y="536.44" width="4.7" height="4.7" fill="none" stroke="#000" stroke-width="1.35"/>
<rect x="139.21" y="535.18" width="4.7" height="4.7" fill="none" stroke="#000" stroke-width="1.35"/>
<rect x="144.81" y="533.90" width="4.7" height="4.7" fill="none" stroke="#000" stroke-width="1.35"/>
<rect x="150.40" y="532.61" width="4.7" height="4.7" fill="none" stroke="#000" stroke-width="1.35"/>
<rect x="156.00" y="531.30" width="4.7" height="4.7" fill="none" stroke="#000" stroke-width="1.35"/>
<rect x="161.60" y="529.98" width="4.7" height="4.7" fill="none" stroke="#000" stroke-width="1.35"/>
<rect x="167.19" y="528.64" width="4.7" height="4.7" fill="none" stroke="#000" stroke-width="1.35"/>
<rect x="172.79" y="527.30" width="4.7" height="4.7" fill="none" stroke="#000" stroke-width="1.35"/>
<rect x="178.39" y="525.93" width="4.7" height="4.7" fill="none" stroke="#000" stroke-width="1.35"/>
<rect x="183.98" y="524.56" width="4.7" height="4.7" fill="none" stroke="#000" stroke-width="1.35"/>
<rect x="189.58" y="523.18" width="4.7" height="4.7" fill="none" stroke="#000" stroke-width="1.35"/>
<rect x="195.18" y="521.78" width="4.7" height="4.7" fill="none" stroke="#000" stroke-width="1.35"/>
<rect x="200.78" y="520.37" width="4.7" height="4.7" fill="none" stroke="#000" stroke-width="1.35"/>
<rect x="206.37" y="518.96" width="4.7" height="4.7" fill="none" stroke="#000" stroke-width="1.35"/>
<rect x="211.97" y="517.53" width="4.7" height="4.7" fill="none" stroke="#000" stroke-width="1.35"/>
<rect x="217.57" y="516.10" width="4.7" height="4.7" fill="none" stroke="#000" stroke-width="1.35"/>
<rect x="223.16" y="514.65" width="4.7" height="4.7" fill="none" stroke="#000" stroke-width="1.35"/>
<circle cx="63.20" cy="550.69" r="2.5" fill="none" stroke="#000" stroke-width="1.4"/>
<circle cx="68.80" cy="550.69" r="2.5" fill="none" stroke="#000" stroke-width="1.4"/>
<circle cx="74.39" cy="550.69" r="2.5" fill="none" stroke="#000" stroke-width="1.4"/>
<circle cx="79.99" cy="550.17" r="2.5" fill="none" stroke="#000" stroke-width="1.4"/>
<circle cx="85.59" cy="548.45" r="2.5" fill="none" stroke="#000" stroke-width="1.4"/>
<circle cx="91.19" cy="546.49" r="2.5" fill="none" stroke="#000" stroke-width="1.4"/>
<circle cx="96.78" cy="544.38" r="2.5" fill="none" stroke="#000" stroke-width="1.4"/>
<circle cx="102.38" cy="542.16" r="2.5" fill="none" stroke="#000" stroke-width="1.4"/>
<circle cx="107.98" cy="539.85" r="2.5" fill="none" stroke="#000" stroke-width="1.4"/>
<circle cx="113.57" cy="537.47" r="2.5" fill="none" stroke="#000" stroke-width="1.4"/>
<circle cx="119.17" cy="535.02" r="2.5" fill="none" stroke="#000" stroke-width="1.4"/>
<circle cx="124.77" cy="532.52" r="2.5" fill="none" stroke="#000" stroke-width="1.4"/>
<circle cx="130.36" cy="529.96" r="2.5" fill="none" stroke="#000" stroke-width="1.4"/>
<circle cx="135.96" cy="527.36" r="2.5" fill="none" stroke="#000" stroke-width="1.4"/>
<circle cx="141.56" cy="524.71" r="2.5" fill="none" stroke="#000" stroke-width="1.4"/>
<circle cx="147.16" cy="522.03" r="2.5" fill="none" stroke="#000" stroke-width="1.4"/>
<circle cx="152.75" cy="519.30" r="2.5" fill="none" stroke="#000" stroke-width="1.4"/>
<circle cx="158.35" cy="516.55" r="2.5" fill="none" stroke="#000" stroke-width="1.4"/>
<circle cx="163.95" cy="513.76" r="2.5" fill="none" stroke="#000" stroke-width="1.4"/>
<circle cx="169.54" cy="510.94" r="2.5" fill="none" stroke="#000" stroke-width="1.4"/>
<circle cx="175.14" cy="508.09" r="2.5" fill="none" stroke="#000" stroke-width="1.4"/>
<circle cx="180.74" cy="505.21" r="2.5" fill="none" stroke="#000" stroke-width="1.4"/>
<circle cx="186.33" cy="502.30" r="2.5" fill="none" stroke="#000" stroke-width="1.4"/>
<circle cx="191.93" cy="499.37" r="2.5" fill="none" stroke="#000" stroke-width="1.4"/>
<circle cx="197.53" cy="496.42" r="2.5" fill="none" stroke="#000" stroke-width="1.4"/>
<circle cx="203.12" cy="493.44" r="2.5" fill="none" stroke="#000" stroke-width="1.4"/>
<circle cx="208.72" cy="490.44" r="2.5" fill="none" stroke="#000" stroke-width="1.4"/>
<circle cx="214.32" cy="487.41" r="2.5" fill="none" stroke="#000" stroke-width="1.4"/>
<circle cx="219.92" cy="484.37" r="2.5" fill="none" stroke="#000" stroke-width="1.4"/>
<circle cx="225.51" cy="481.31" r="2.5" fill="none" stroke="#000" stroke-width="1.4"/>
</g>
<g id="panelE">
<text x="333.90" y="202.10" font-size="25.6" text-anchor="start" font-weight="bold">E</text>
<line x1="391.80" y1="225.50" x2="391.80" y2="442.00" stroke="#000" stroke-width="1.5"/>
<line x1="389.00" y1="441.30" x2="520.00" y2="441.30" stroke="#000" stroke-width="1.4"/>
<line x1="389.00" y1="369.56" x2="391.80" y2="369.56" stroke="#000" stroke-width="1.5"/>
<line x1="389.00" y1="297.82" x2="391.80" y2="297.82" stroke="#000" stroke-width="1.5"/>
<line x1="389.00" y1="226.08" x2="391.80" y2="226.08" stroke="#000" stroke-width="1.5"/>
<text x="367.30" y="232.60" font-size="15.9" text-anchor="start" font-weight="bold" textLength="19.20" lengthAdjust="spacingAndGlyphs">60</text>
<text x="367.30" y="305.40" font-size="15.9" text-anchor="start" font-weight="bold" textLength="19.20" lengthAdjust="spacingAndGlyphs">40</text>
<text x="367.30" y="375.90" font-size="15.9" text-anchor="start" font-weight="bold" textLength="19.20" lengthAdjust="spacingAndGlyphs">20</text>
<text x="373.60" y="448.30" font-size="15.9" text-anchor="start" font-weight="bold" textLength="11.60" lengthAdjust="spacingAndGlyphs">0</text>
<rect x="397.40" y="301.00" width="9.2" height="140.30" fill="#000"/>
<rect x="418.50" y="284.60" width="9.2" height="156.70" fill="#000"/>
<line x1="423.10" y1="275.40" x2="423.10" y2="284.60" stroke="#000" stroke-width="1.2"/>
<line x1="420.30" y1="275.40" x2="425.90" y2="275.40" stroke="#000" stroke-width="1.2"/>
<rect x="440.00" y="343.30" width="9.2" height="98.00" fill="#000"/>
<line x1="444.60" y1="332.80" x2="444.60" y2="343.30" stroke="#000" stroke-width="1.2"/>
<line x1="441.80" y1="332.80" x2="447.40" y2="332.80" stroke="#000" stroke-width="1.2"/>
<rect x="461.50" y="280.00" width="9.2" height="161.30" fill="#000"/>
<line x1="466.10" y1="270.90" x2="466.10" y2="280.00" stroke="#000" stroke-width="1.2"/>
<line x1="463.30" y1="270.90" x2="468.90" y2="270.90" stroke="#000" stroke-width="1.2"/>
<rect x="482.40" y="281.90" width="9.2" height="159.40" fill="#000"/>
<line x1="487.00" y1="260.00" x2="487.00" y2="281.90" stroke="#000" stroke-width="1.2"/>
<line x1="484.20" y1="260.00" x2="489.80" y2="260.00" stroke="#000" stroke-width="1.2"/>
<rect x="503.70" y="277.30" width="9.2" height="164.00" fill="#000"/>
<line x1="508.30" y1="253.00" x2="508.30" y2="277.30" stroke="#000" stroke-width="1.2"/>
<line x1="505.50" y1="253.00" x2="511.10" y2="253.00" stroke="#000" stroke-width="1.2"/>
<text transform="translate(340.8,376.9) rotate(-90)" font-size="17.4" font-weight="bold" textLength="91.4" lengthAdjust="spacingAndGlyphs">O<tspan dy="5">2</tspan><tspan dy="-11.3">-</tspan><tspan dy="6.3"> release</tspan></text>
<text transform="translate(359.8,412.4) rotate(-90)" font-size="10.4" font-weight="bold" textLength="145.8" lengthAdjust="spacingAndGlyphs">(nmol/15min/5 x 10<tspan dy="-3.6" font-size="9.4">5</tspan><tspan dy="3.6"> PMNs)</tspan></text>
<text x="406.80" y="452.40" font-size="14.0" text-anchor="end" font-weight="bold" transform="rotate(-90 406.80 452.40)">(-)</text>
<text x="428.20" y="452.40" font-size="14.0" text-anchor="end" font-weight="bold" transform="rotate(-90 428.20 452.40)">GM</text>
<text x="449.70" y="452.40" font-size="14.0" text-anchor="end" font-weight="bold" transform="rotate(-90 449.70 452.40)">TNF/CHX</text>
<text x="470.70" y="452.40" font-size="14.0" text-anchor="end" font-weight="bold" transform="rotate(-90 470.70 452.40)">zVAD-fmk + TNF/CHX</text>
<text x="491.60" y="452.40" font-size="14.0" text-anchor="end" font-weight="bold" transform="rotate(-90 491.60 452.40)">GM-CSF + TNF/CHX</text>
<text x="513.20" y="452.40" font-size="14.0" text-anchor="end" font-weight="bold" transform="rotate(-90 513.20 452.40)">GM-CSF + zVAD-fmk + TNF/CHX</text>
</g>
</svg>
</body></html>
